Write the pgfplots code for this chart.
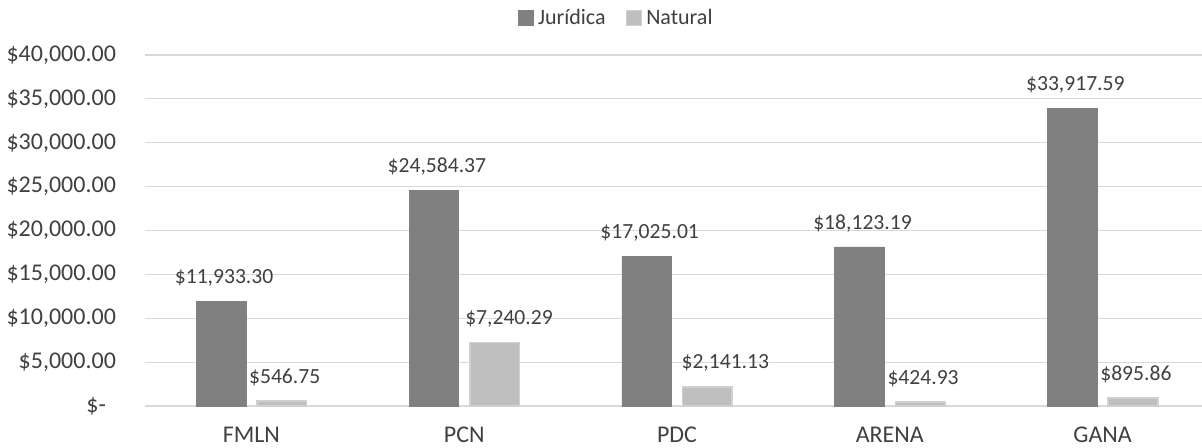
\documentclass[border=0pt]{standalone}
\usepackage{fontspec}
\setmainfont{Carlito}
\usepackage{pgfplots}
\usepackage{pgfplotstable}
\pgfplotsset{compat=1.18}
\definecolor{darkbar}{HTML}{808080}
\definecolor{lightbar}{HTML}{BFBFBF}
\definecolor{lightedge}{HTML}{D0D0D0}
\definecolor{gridc}{HTML}{D9D9D9}
\definecolor{txt}{HTML}{404040}
\pgfplotstableread{
x y lab
0 11933.30 \$11,933.30
1 24584.37 \$24,584.37
2 17025.01 \$17,025.01
3 18123.19 \$18,123.19
4 33917.59 \$33,917.59
}\jur
\pgfplotstableread{
x y lab
0 546.75 \$546.75
1 7240.29 \hspace*{11.5pt}\$7,240.29
2 2141.13 \hspace*{15pt}\$2,141.13
3 424.93 \$424.93
4 895.86 \$895.86
}\nat
\begin{document}
\begin{tikzpicture}[font=\fontsize{10.8pt}{13pt}\selectfont, text=txt]
\path[use as bounding box] (-72.5pt,-20.5pt) rectangle (528.5pt,203pt);
\begin{axis}[
  at={(0pt,0pt)}, anchor=south west,
  scale only axis, width=532pt, height=175.5pt,
  xmin=-0.5, xmax=4.5, ymin=0, ymax=40000,
  scaled y ticks=false,
  xtick={0,1,2,3,4}, xticklabels={FMLN,PCN,PDC,ARENA,GANA},
  ytick={5000,10000,15000,20000,25000,30000,35000,40000},
  yticklabels={{\$5,000.00},{\$10,000.00},{\$15,000.00},{\$20,000.00},{\$25,000.00},{\$30,000.00},{\$35,000.00},{\$40,000.00}},
  extra y ticks={0},
  extra y tick labels={{\$-}},
  extra y tick style={yticklabel style={xshift=-5pt}},
  ymajorgrids, major grid style={gridc, line width=0.6pt},
  axis line style={draw=none},
  major tick length=0pt,
  yticklabel style={anchor=east, xshift=-11pt, text=txt, font=\fontsize{12pt}{14pt}\selectfont},
  xticklabel style={anchor=north, yshift=-7pt, text=txt, font=\fontsize{12pt}{14pt}\selectfont},
  ybar=0pt, bar width=24.8pt,
  point meta=explicit symbolic,
  nodes near coords,
  every node near coord/.append style={anchor=south, yshift=4pt, xshift=1.5pt, text=txt, font=\fontsize{10.8pt}{13pt}\selectfont},
  legend columns=2,
  legend style={draw=none, fill=none, at={(0.444,1.105)}, anchor=center,
    /tikz/every even column/.append style={column sep=8pt}, font=\fontsize{11pt}{13pt}\selectfont, text=txt},
  legend image code/.code={\fill[#1] (0pt,-3.75pt) rectangle (7.5pt,3.75pt);},
]
\addplot[fill=darkbar, draw=darkbar, bar shift=-15.15pt] table[x=x, y=y, meta=lab] {\jur};
\addlegendentry{Jurídica}
\addplot[fill=lightbar, draw=lightedge, line width=0.8pt, bar shift=15.15pt] table[x=x, y=y, meta=lab] {\nat};
\addlegendentry{Natural}
\end{axis}
\end{tikzpicture}
\end{document}
